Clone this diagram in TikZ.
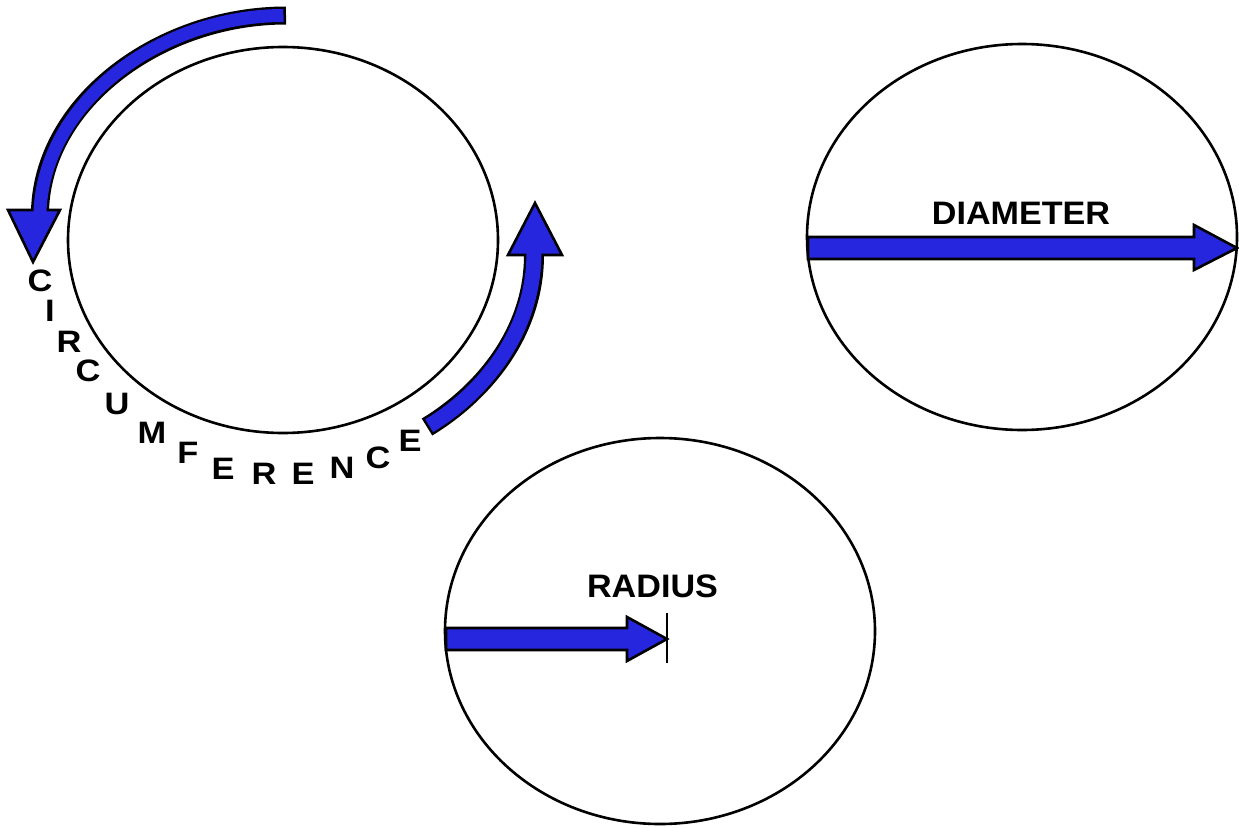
\documentclass[tikz,border=0pt]{standalone}
\usepackage{fontspec}
\usepackage{graphicx}
\setmainfont{Liberation Sans}
\definecolor{arrowblue}{RGB}{38,38,222}
\newcommand{\wide}[1]{\scalebox{1.11}[1]{#1}}
\newcommand{\lwide}[1]{\scalebox{1.05}[1]{#1}}
\begin{document}
\begin{tikzpicture}[x=1pt,y=-1pt,
  rim/.style={draw=black,line width=2.6pt},
  blk/.style={draw=black,line width=2.6pt,fill=arrowblue,line join=miter},
  lbl/.style={inner sep=0pt,font=\bfseries\fontsize{32.5}{32.5}\selectfont},
  ltr/.style={inner sep=0pt,font=\bfseries\fontsize{31}{31}\selectfont}]
\useasboundingbox (0,0) rectangle (1239,827);
% circles
\draw[rim] (283,240) ellipse [x radius=215pt, y radius=193pt];
\draw[rim] (1022,237) ellipse [x radius=215pt, y radius=193pt];
\draw[rim] (660,631) ellipse [x radius=215pt, y radius=193pt];
% coordinates
\coordinate (t1) at (286,15.5);
\coordinate (h1) at (40,210);
\coordinate (t2) at (427,427);
\coordinate (h2) at (534,255);
% top-left curved arrow
\draw[black,line width=18pt] (t1) .. controls (162,15.5) and (44,100) .. (h1);
\draw[blk] (8,210) -- (60,210) -- (33,262) -- cycle;
\draw[arrowblue,line width=13pt,shorten <=2.5pt,shorten >=-3pt] (t1) .. controls (162,15.5) and (44,100) .. (h1);
% bottom-right curved arrow
\draw[black,line width=20pt] (t2) .. controls (480,395) and (534,335) .. (h2);
\draw[blk] (508,255) -- (562,255) -- (535,203) -- cycle;
\draw[arrowblue,line width=15pt,shorten <=2.5pt,shorten >=-3pt] (t2) .. controls (480,395) and (534,335) .. (h2);
% diameter arrow
\coordinate (d0) at (808,248);
\coordinate (d1) at (1237,248);
\draw[blk] (808,237) -- (1194,237) -- (1194,225) -- (d1) -- (1194,270) -- (1194,259) -- (808,259) -- cycle;
\node[lbl] (diam) at (1021,213.5) {\lwide{DIAMETER}};
% radius arrow
\coordinate (r0) at (446,639);
\coordinate (r1) at (667,639);
\draw[blk] (446,628) -- (627,628) -- (627,617) -- (r1) -- (627,661) -- (627,650) -- (446,650) -- cycle;
\draw[black,line width=2.6pt] (667,613) -- (667,663);
\node[lbl] (rad) at (652.5,586.5) {\lwide{RADIUS}};
% circumference letters
\node[ltr] (l1) at (40,281) {\wide{C}};
\node[ltr] (l2) at (50,311) {\wide{I}};
\node[ltr] (l3) at (69,342) {\wide{R}};
\node[ltr] (l4) at (88,371) {\wide{C}};
\node[ltr] (l5) at (117,404) {\wide{U}};
\node[ltr] (l6) at (152,433) {\wide{M}};
\node[ltr] (l7) at (188,453) {\wide{F}};
\node[ltr] (l8) at (223,469) {\wide{E}};
\node[ltr] (l9) at (264,474) {\wide{R}};
\node[ltr] (l10) at (303,474) {\wide{E}};
\node[ltr] (l11) at (342,468) {\wide{N}};
\node[ltr] (l12) at (378,458) {\wide{C}};
\node[ltr] (l13) at (410,441) {\wide{E}};
\end{tikzpicture}
\end{document}
